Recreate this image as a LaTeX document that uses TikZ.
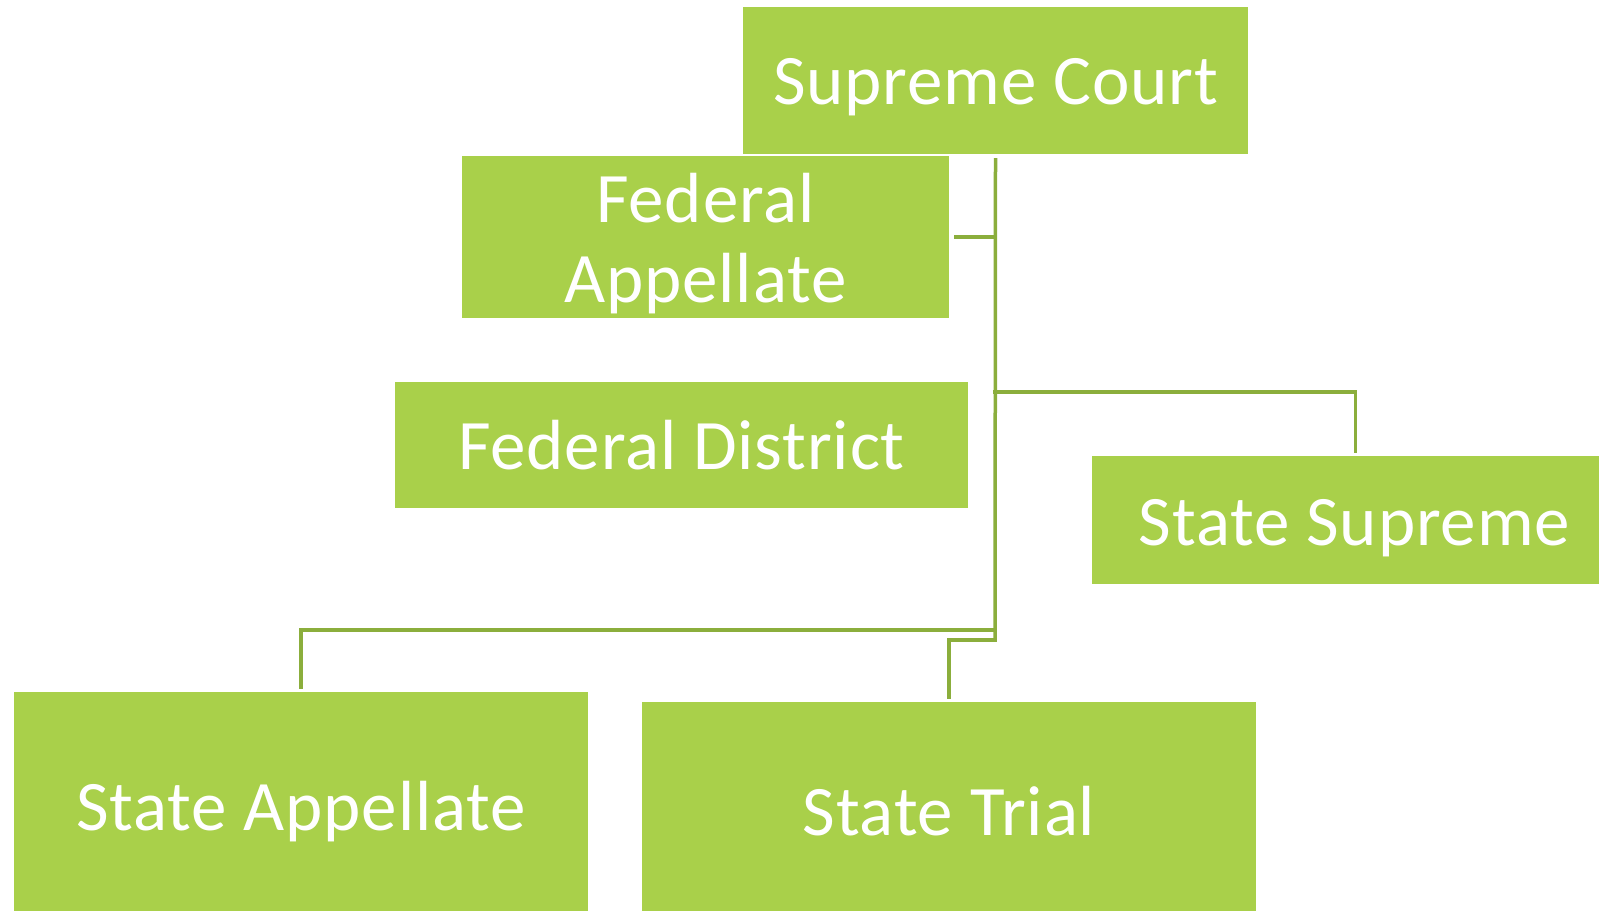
\documentclass[tikz,border=0pt]{standalone}
\usepackage{fontspec}
\setmainfont{Carlito}[LetterSpace=1.2]
\usetikzlibrary{calc}
\definecolor{boxgreen}{RGB}{169,208,74}
\definecolor{linegreen}{RGB}{139,174,60}
\tikzset{
  court/.style={rectangle, fill=boxgreen, draw=white, line width=1.5pt,
    inner sep=0pt, outer sep=0pt},
  courtlabel/.style={text=white, inner sep=0pt, align=center,
    font=\fontsize{71}{80}\selectfont},
  conn/.style={draw=linegreen, line width=3.5pt, line cap=rect}
}
\begin{document}
\begin{tikzpicture}[x=1pt,y=-1pt]
\useasboundingbox (0,0) rectangle (1600,911);
\node[court, minimum width=507pt, minimum height=149pt,
  label={[courtlabel, name=tsc, yshift=-7pt]center:Supreme Court}] (sc) at (995.5,80.5) {};
\node[court, minimum width=489pt, minimum height=164pt,
  label={[courtlabel, name=tfa, yshift=-7pt]center:Federal\\Appellate}] (fa) at (705.5,237) {};
\node[court, minimum width=575pt, minimum height=128pt,
  label={[courtlabel, name=tfd, yshift=0pt]center:Federal District}] (fd) at (681.5,445) {};
\node[court, minimum width=509pt, minimum height=130pt,
  label={[courtlabel, name=tss, xshift=9pt, yshift=-8pt]center:State Supreme}] (ss) at (1345.5,520) {};
\node[court, minimum width=576pt, minimum height=221pt,
  label={[courtlabel, name=tsa, yshift=-10pt]center:State Appellate}] (sa) at (301,801.5) {};
\node[court, minimum width=616pt, minimum height=211pt,
  label={[courtlabel, name=tst, yshift=-5pt]center:State Trial}] (st) at (949,806.5) {};
\coordinate (top) at ($(sc.south)+(0,3)$);
\coordinate (j) at (995,640);
\coordinate (kss) at (995,392);
\coordinate (ksa) at (995,630);
\draw[conn, line cap=butt] (top) -- (j);
\draw[conn, line cap=butt] ([xshift=4pt]fa.east) -- (fa.east -| j);
\draw[conn, shorten >=4pt] (kss) -| ([xshift=10pt]ss.north);
\draw[conn, shorten >=4pt] (ksa) -| (sa.north);
\draw[conn, shorten >=4pt] (j) -| (st.north);
\end{tikzpicture}
\end{document}
